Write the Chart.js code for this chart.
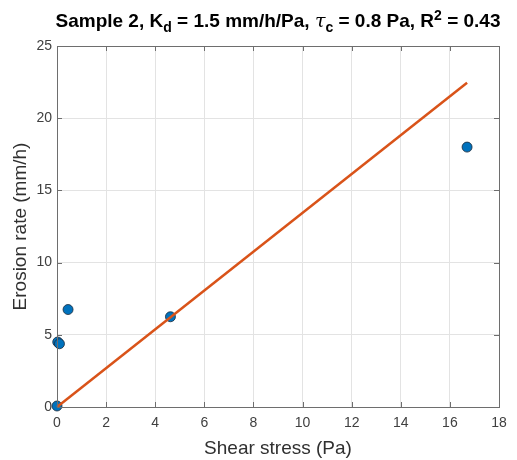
<!DOCTYPE html>
<html>
<head>
<meta charset="utf-8">
<script src="https://cdn.jsdelivr.net/npm/chart.js@4/dist/chart.umd.min.js"></script>
<style>
  html, body { margin:0; padding:0; background:#fff; }
  #wrap { position:relative; width:517px; height:460px; }
  #title {
    position:absolute; left:37px; width:482px; top:9px; text-align:center;
    font:bold 19px "Liberation Sans", Arial, sans-serif; color:#000; white-space:nowrap;
  }
  #title sub, #title sup { font-size:14px; line-height:0; }
  #title i { font-family:"DejaVu Serif", serif; font-weight:normal; }
</style>
</head>
<body>
<div id="wrap">
  <canvas id="c" width="517" height="460"></canvas>
  <div id="title">Sample 2, K<sub>d</sub> = 1.5 mm/h/Pa, <i>τ</i><sub>c</sub> = 0.8 Pa, R<sup>2</sup> = 0.43</div>
</div>
<script>
const shearStress = [0, 0.03, 0.1, 0.45, 4.62, 16.7];
const erosionRate = [0.07, 4.5, 4.38, 6.75, 6.25, 18.0];
const fitX = [0, 16.7];
const fitY = [0, 22.45];
const xTicks = [0, 2, 4, 6, 8, 10, 12, 14, 16, 18];
const yTicks = [0, 5, 10, 15, 20, 25];

const axisColor = "#6e6e6e";
const font = "'Liberation Sans', Arial, sans-serif";

const boxTicks = {
  id: "boxTicks",
  afterDatasetsDraw(chart){
    const {ctx, chartArea:a, scales:{x, y}} = chart;
    ctx.save();
    ctx.strokeStyle = axisColor;
    ctx.lineWidth = 1;
    ctx.beginPath();
    xTicks.forEach(v => {
      const px = Math.round(x.getPixelForValue(v)) + 0.5;
      ctx.moveTo(px, a.bottom); ctx.lineTo(px, a.bottom - 5);
      ctx.moveTo(px, a.top); ctx.lineTo(px, a.top + 5);
    });
    yTicks.forEach(v => {
      const py = Math.round(y.getPixelForValue(v)) + 0.5;
      ctx.moveTo(a.left, py); ctx.lineTo(a.left + 5, py);
      ctx.moveTo(a.right, py); ctx.lineTo(a.right - 5, py);
    });
    ctx.stroke();
    ctx.strokeRect(Math.round(a.left) + 0.5, Math.round(a.top) + 0.5,
      Math.round(a.right - a.left), Math.round(a.bottom - a.top));
    ctx.restore();
  }
};

new Chart(document.getElementById("c"), {
  data:{
    datasets:[
      {
        type:"line",
        data:fitX.map((v, i) => ({x:v, y:fitY[i]})),
        borderColor:"#D95319",
        borderWidth:2.5,
        pointRadius:0,
        fill:false,
        clip:false,
        order:0
      },
      {
        type:"scatter",
        data:shearStress.map((v, i) => ({x:v, y:erosionRate[i]})),
        backgroundColor:"#0072BD",
        borderColor:"#1a2a3a",
        borderWidth:0.8,
        pointRadius:5,
        clip:false,
        order:1
      }
    ]
  },
  options:{
    responsive:false,
    animation:false,
    layout:{ padding:{ top:46, right:18, left:0, bottom:0 } },
    plugins:{ legend:{ display:false }, tooltip:{ enabled:false } },
    scales:{
      x:{
        type:"linear", min:0, max:18,
        afterBuildTicks(s){ s.ticks = xTicks.map(v => ({value:v})); },
        afterFit(s){ s.height = 53; },
        grid:{ color:"#e3e3e3", drawTicks:false },
        border:{ display:false },
        ticks:{ color:"#404040", font:{ family:font, size:14 }, padding:8 },
        title:{ display:true, text:"Shear stress (Pa)", color:"#303030",
          font:{ family:font, size:19 }, padding:{ top:2, bottom:0 } }
      },
      y:{
        type:"linear", min:0, max:25,
        afterBuildTicks(s){ s.ticks = yTicks.map(v => ({value:v})); },
        afterFit(s){ s.width = 57; },
        grid:{ color:"#e3e3e3", drawTicks:false },
        border:{ display:false },
        ticks:{ color:"#404040", font:{ family:font, size:14 }, padding:5 },
        title:{ display:true, text:"Erosion rate (mm/h)", color:"#303030",
          font:{ family:font, size:19 }, padding:{ top:9, bottom:0 } }
      }
    }
  },
  plugins:[boxTicks]
});
</script>
</body>
</html>
